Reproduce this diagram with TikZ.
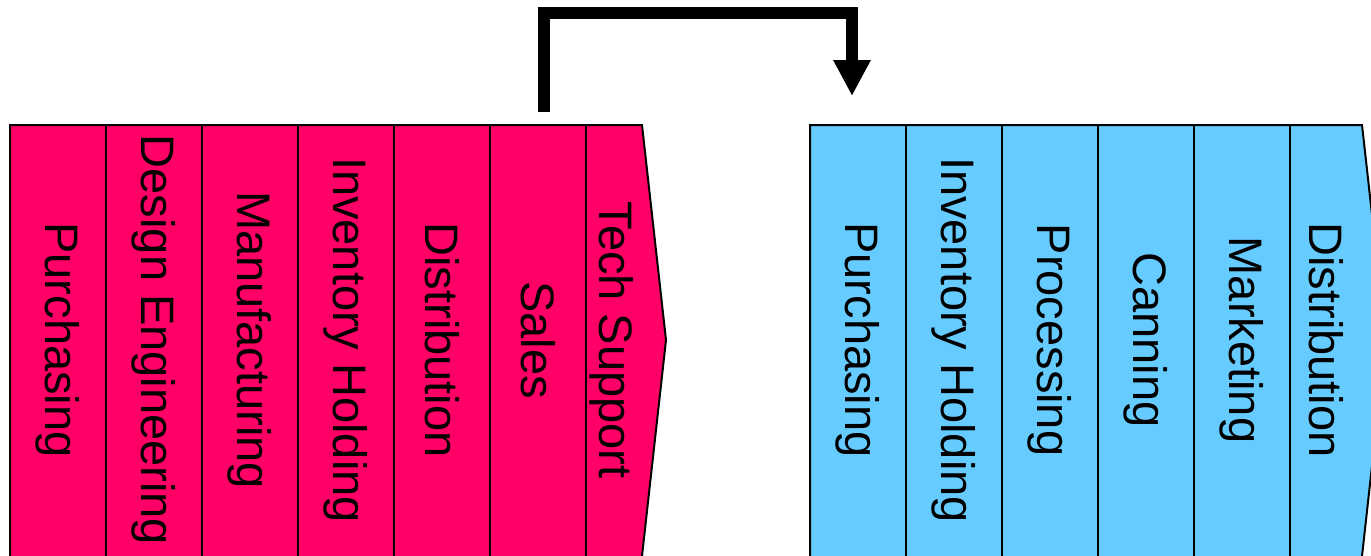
\documentclass[tikz,border=0pt]{standalone}
\usepackage{fontspec}
\setmainfont{Liberation Sans}
\usetikzlibrary{arrows.meta}
\definecolor{chainpink}{HTML}{FF0066}
\definecolor{chainblue}{HTML}{66CCFF}

\begin{document}
\begin{tikzpicture}[x=1pt,y=-1pt,
  outline/.style={draw=black,line width=2pt,line join=miter},
  stage/.style={rotate=-90,inner sep=0pt,font=\fontsize{47}{50}\selectfont},
  flow/.style={line width=12pt,line join=miter,-{Triangle[width=35pt,length=36pt]}}]
\useasboundingbox (0,0) rectangle (1371,555);
\clip (0,0) rectangle (1371,555);

% first chain
\filldraw[outline,fill=chainpink] (10,565) -- (10,125) -- (642,125) -- (666,340) -- (641,565) -- cycle;
\foreach \x in {106,202,298,394,490,586}
  \draw[outline] (\x,125) -- (\x,565);

\node[stage] (l1) at (58,340) {Purchasing};
\node[stage] (l2) at (154,340) {Design Engineering};
\node[stage] (l3) at (250,340) {Manufacturing};
\node[stage] (l4) at (346,340) {Inventory Holding};
\node[stage] (l5) at (442,340) {Distribution};
\node[stage] (l6) at (538,340) {Sales};
\node[stage] (l7) at (612,340) {Tech Support};

% second chain
\filldraw[outline,fill=chainblue] (810,565) -- (810,125) -- (1362,125) -- (1386,340) -- (1361,565) -- cycle;
\foreach \x in {906,1002,1098,1194,1290}
  \draw[outline] (\x,125) -- (\x,565);

\node[stage] (r1) at (858,340) {Purchasing};
\node[stage] (r2) at (954,340) {Inventory Holding};
\node[stage] (r3) at (1050,340) {Processing};
\node[stage] (r4) at (1146,340) {Canning};
\node[stage] (r5) at (1242,340) {Marketing};
\node[stage] (r6) at (1326,340) {Distribution};

% link between the chains
\coordinate (out) at (544,112);
\coordinate (in) at (852,96);
\draw[flow] (out) -- ++(0,-99) -| (in);
\end{tikzpicture}
\end{document}
